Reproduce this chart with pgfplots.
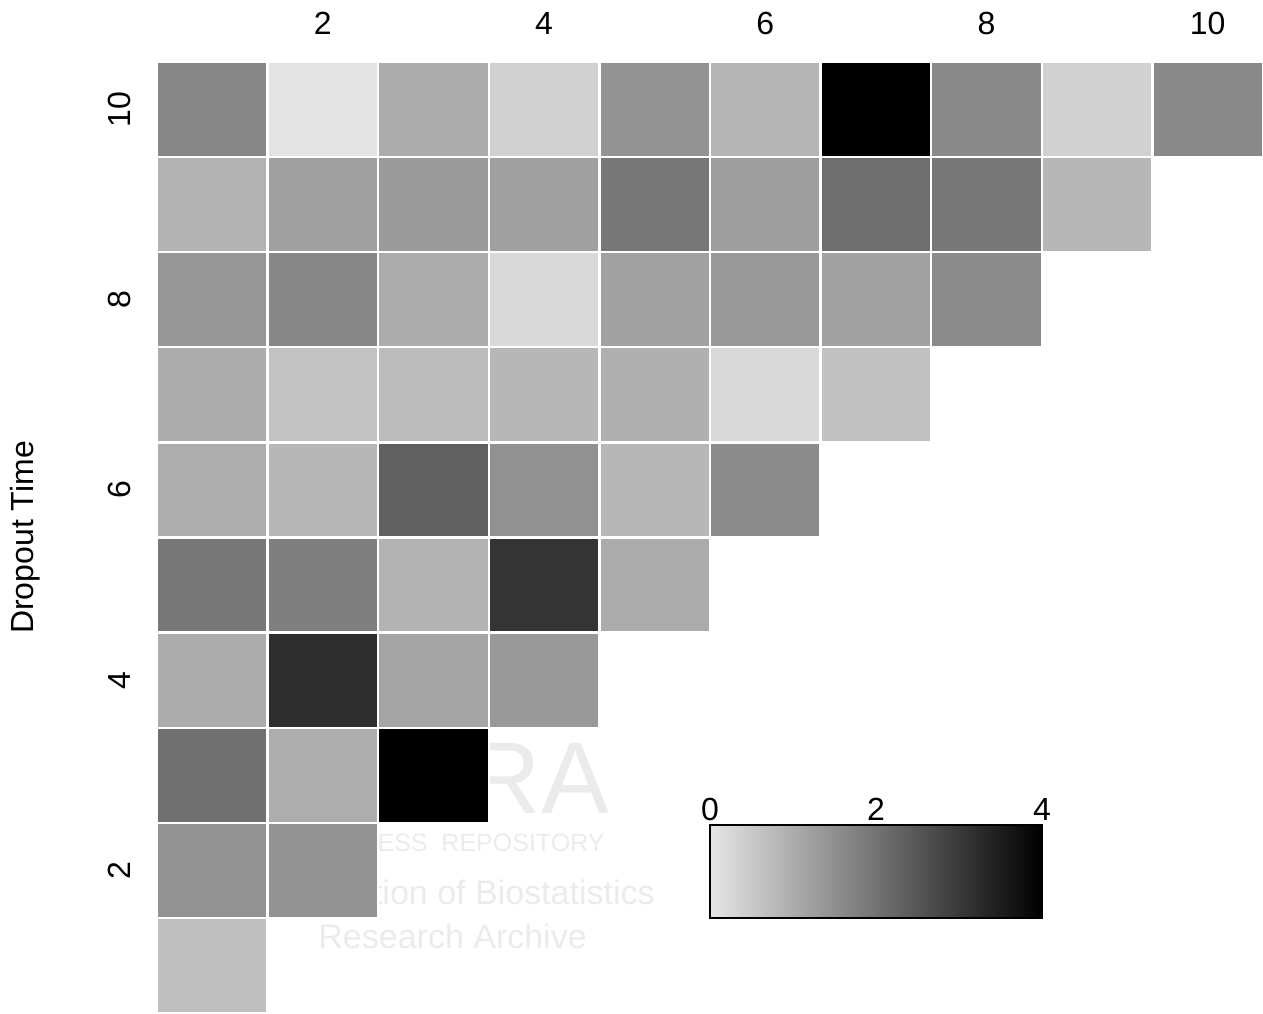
\documentclass[border=0pt]{standalone}
\usepackage{fontspec}
\setmainfont{Liberation Sans}
\usepackage{pgfplots}
\pgfplotsset{compat=1.18}
\usetikzlibrary{calc}

% one cell of the grid: 110.6 x 95.1 px at 0.5pt/px
\pgfdeclareplotmark{cell}{%
  \pgfpathrectangle{\pgfpoint{-27.65pt}{-23.775pt}}{\pgfpoint{55.3pt}{47.55pt}}%
  \pgfusepathqfillstroke}

\begin{document}
\begin{tikzpicture}
\begin{axis}[
    name=main,
    scale only axis,
    width=553pt, height=475.5pt,
    xmin=0.5, xmax=10.5, ymin=0.5, ymax=10.5,
    axis line style={draw=none},
    major tick length=0pt,
    xtick={2,4,6,8,10}, ytick={2,4,6,8,10},
    xticklabel pos=upper,
    xticklabel shift=10.2pt,
    yticklabel shift=9.7pt,
    yticklabel style={rotate=90, anchor=south},
    tick label style={font=\fontsize{16}{19}\selectfont},
    /pgf/number format/assume math mode=true,
    ylabel={Dropout Time},
    every axis y label/.style={at={(axis description cs:-0.119,0.5)}, rotate=90, anchor=center, font=\fontsize{16}{19}\selectfont},
    colormap={bw}{gray(0cm)=(0.9); gray(1cm)=(0)},
    point meta min=0, point meta max=4,
    colorbar horizontal,
    colorbar/width=46.5pt,
    colorbar style={
        at={($(parent axis.south west)+(276.5pt,56pt)$)},
        anchor=south west,
        scale only axis,
        width=166pt, height=46.5pt,
        xtick={0,2,4},
        xticklabel pos=upper,
        xticklabel shift=-1.3pt,
        major tick length=0pt,
        axis line style={black, line width=0.8pt},
        tick label style={font=\fontsize{16}{19}\selectfont},
        /pgf/number format/assume math mode=true,
    },
]
% faint repository watermark behind the cells
\node[anchor=base east, inner sep=0pt, text=black!8, font=\fontsize{51}{58}\selectfont] at (axis cs:4.596,2.6) {COBRA};
\node[anchor=base east, inner sep=0pt, text=black!8, font=\fontsize{12.5}{15}\selectfont] at (axis cs:4.55,2.2) {BEPRESS\ \ REPOSITORY};
\node[anchor=base east, inner sep=0pt, text=black!8, font=\fontsize{17}{20}\selectfont] at (axis cs:5.003,1.636) {Collection of Biostatistics};
\node[anchor=base west, inner sep=0pt, text=black!8, font=\fontsize{17}{20}\selectfont] at (axis cs:1.956,1.183) {Research Archive};

\addplot[scatter, only marks, scatter src=explicit, mark=cell,
    scatter/use mapped color={draw=white, fill=mapped color},
    mark options={line width=1.2pt, solid}]
table[x=x, y=y, meta=v] {
x  y  v
1  10 1.64
2  10 0.04
3  10 1.00
4  10 0.38
5  10 1.42
6  10 0.84
7  10 4.00
8  10 1.60
9  10 0.36
10 10 1.60
1  9  0.89
2  9  1.20
3  9  1.29
4  9  1.20
5  9  1.91
6  9  1.24
7  9  2.07
8  9  1.89
9  9  0.80
1  8  1.38
2  8  1.64
3  8  1.00
4  8  0.22
5  8  1.18
6  8  1.33
7  8  1.16
8  8  1.56
1  7  1.00
2  7  0.62
3  7  0.71
4  7  0.80
5  7  0.93
6  7  0.22
7  7  0.64
1  6  0.98
2  6  0.80
3  6  2.31
4  6  1.47
5  6  0.80
6  6  1.56
1  5  1.89
2  5  1.78
3  5  0.87
4  5  3.07
5  5  1.02
1  4  1.00
2  4  3.20
3  4  1.11
4  4  1.33
1  3  2.04
2  3  0.98
3  3  3.98
1  2  1.42
2  2  1.42
1  1  0.67
};
\end{axis}
\pgfresetboundingbox
\path ($(main.south west)+(-78.5pt,0pt)$) rectangle ($(main.north east)+(0pt,31pt)$);
\end{tikzpicture}
\end{document}
